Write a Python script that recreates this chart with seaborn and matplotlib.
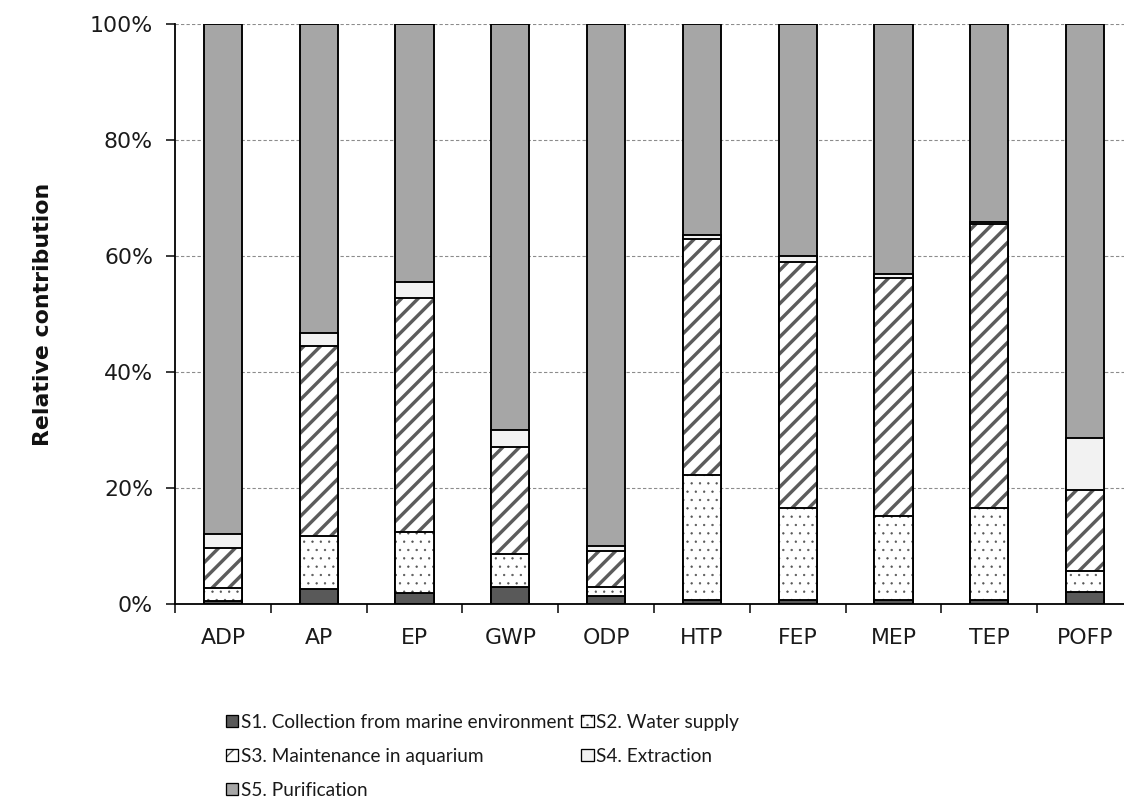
import numpy as np
import pandas as pd
import matplotlib
matplotlib.use("Agg")
import matplotlib.pyplot as plt
import seaborn as sns
from matplotlib.patches import Patch
from matplotlib.colors import to_rgba

# === data (percent of each impact category) ===
categories = ["ADP", "AP", "EP", "GWP", "ODP", "HTP", "FEP", "MEP", "TEP", "POFP"]
s1_collection = [0.5, 2.6, 1.9, 2.9, 1.4, 0.7, 0.7, 0.7, 0.7, 2.1]
s2_water = [2.3, 9.1, 10.5, 5.7, 1.5, 21.5, 15.9, 14.5, 15.9, 3.6]
s3_aquarium = [6.9, 32.7, 40.4, 18.5, 6.2, 40.8, 42.4, 41.0, 48.9, 14.0]
s4_extraction = [2.4, 2.4, 2.7, 2.9, 0.9, 0.6, 1.0, 0.7, 0.4, 8.9]
s5_purification = [87.9, 53.2, 44.5, 70.0, 90.0, 36.4, 40.0, 43.1, 34.1, 71.4]
stage_labels = ["S1. Collection from marine environment", "S2. Water supply",
                "S3. Maintenance in aquarium", "S4. Extraction", "S5. Purification"]
y_ticks = [0, 20, 40, 60, 80, 100]

DPI = 100


def px(v):
    # pixels -> points
    return v * 72 / DPI


sns.set_theme(style="white")
plt.rcParams["font.family"] = ["DejaVu Sans"]

# stage styles: fill, hatch, hatch colour, hatch line width (px)
styles = [
    ("#595959", "", "#000000", 1.0),
    ("#FFFFFF", "..", "#555555", 0.6),
    ("#FFFFFF", "//", "#5c5c5c", 3.4),
    ("#F2F2F2", "", "#000000", 1.0),
    ("#A6A6A6", "", "#000000", 1.0),
]


def style_hatch(patch, hc, hlw):
    patch._hatch_color = to_rgba(hc)
    if hasattr(patch, "set_hatch_linewidth"):
        patch.set_hatch_linewidth(px(hlw))


stages = [s1_collection, s2_water, s3_aquarium, s4_extraction, s5_purification]
cum = np.cumsum(np.array(stages), axis=0)
cum[-1] = 100.0

fig = plt.figure(figsize=(1124 / DPI, 809 / DPI), dpi=DPI)
ax = fig.add_axes([175 / 1124, 205 / 809, 958 / 1124, 580 / 809])

# draw stacked bars from the top stage down so lower stages overlay
for i in range(len(stages) - 1, -1, -1):
    fc, hatch, hc, hlw = styles[i]
    plt.rcParams["hatch.linewidth"] = px(hlw)
    df = pd.DataFrame({"cat": categories, "val": cum[i]})
    n_before = len(ax.patches)
    sns.barplot(data=df, x="cat", y="val", order=categories, color=fc,
                saturation=1, width=0.4, errorbar=None, hatch=hatch,
                edgecolor="black", linewidth=px(1.9), ax=ax)
    for p in ax.patches[n_before:]:
        style_hatch(p, hc, hlw)
        p.set_zorder(3)

ax.set_ylim(0, 100)
ax.set_xlim(-0.5, 9.5)
ax.set_yticks(y_ticks)
ax.set_yticklabels([f"{t}%" for t in y_ticks])
ax.yaxis.grid(True, linestyle=(0, (3, 2)), color="#8c8c8c", linewidth=px(1.1))
ax.set_axisbelow(True)

for s in ["top", "right"]:
    ax.spines[s].set_visible(False)
for s in ["left", "bottom"]:
    ax.spines[s].set_color("black")
    ax.spines[s].set_linewidth(px(1.8))
    ax.spines[s].set_zorder(4)

ax.set_xticks(np.arange(len(categories)))
ax.set_xticklabels(categories)
ax.set_xticks(np.arange(len(categories) + 1) - 0.5, minor=True)
ax.tick_params(axis="x", which="major", length=0, pad=px(24), labelsize=px(22))
ax.tick_params(axis="x", which="minor", length=px(9), width=px(1.5), direction="out", color="black", bottom=True)
ax.tick_params(axis="y", length=px(9), width=px(1.5), direction="out", left=True,
               labelsize=px(22), pad=px(13), color="black")
for lbl in ax.get_xticklabels() + ax.get_yticklabels():
    lbl.set_color("#1a1a1a")

ax.set_xlabel("")
ax.set_ylabel("Relative contribution", fontsize=px(22), fontweight="bold", color="#111111")
ax.yaxis.set_label_coords(-122 / 958, 0.5)

# legend, row-major order in two columns
handles = [Patch(facecolor=styles[i][0], edgecolor="black", hatch=styles[i][1],
                 linewidth=px(1.3), label=stage_labels[i]) for i in range(5)]
order = [0, 2, 4, 1, 3]
leg = fig.legend([handles[i] for i in order], [stage_labels[i] for i in order],
                 loc="upper left", bbox_to_anchor=(218 / 1124, 1 - 706 / 809), ncol=2,
                 frameon=False, prop={"family": ["Lato", "DejaVu Sans"], "size": px(19)},
                 handlelength=0.65, handleheight=0.65, handletextpad=0.15,
                 columnspacing=0.4, labelspacing=0.9, borderaxespad=0)
for t in leg.get_texts():
    t.set_color("#1a1a1a")
for p, i in zip(leg.get_patches(), order):
    style_hatch(p, styles[i][2], min(styles[i][3], 1.5))

fig.savefig("out.png", dpi=DPI)
